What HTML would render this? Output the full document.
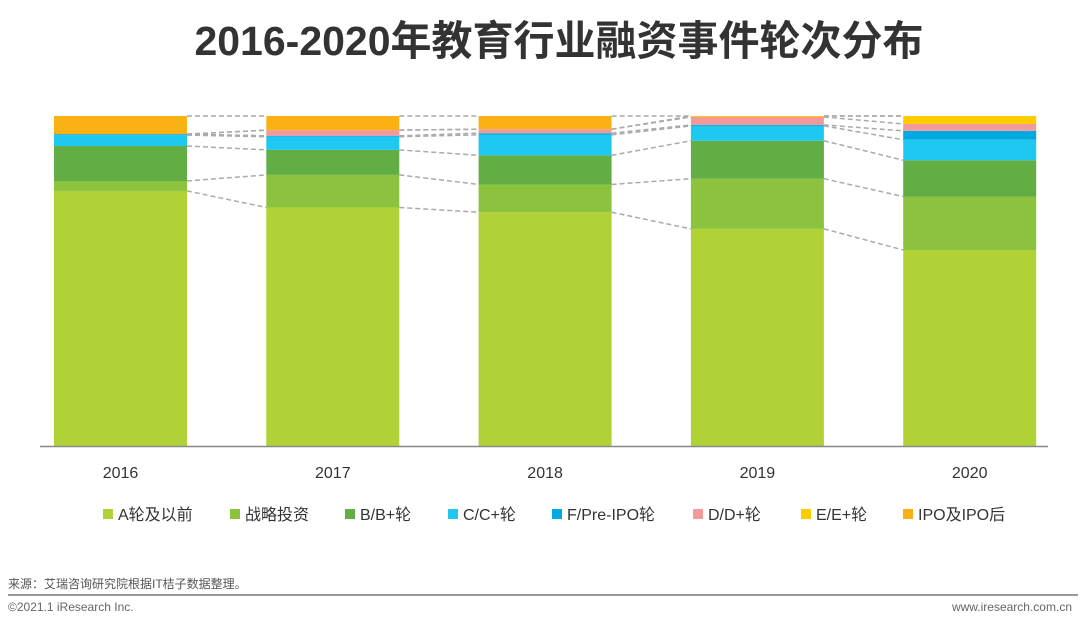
<!DOCTYPE html>
<html><head><meta charset="utf-8">
<style>
body{margin:0;width:1080px;height:629px;background:#fff;font-family:"Liberation Sans","Noto Sans CJK SC",sans-serif;overflow:hidden;position:relative}
.abs{position:absolute;white-space:nowrap}
</style></head><body>
<div class="abs" style="left:0;width:1080px;padding-left:38px;box-sizing:border-box;top:7px;text-align:center;font-size:41px;font-weight:bold;color:#333">2016-2020年教育行业融资事件轮次分布</div>
<svg id="chart" width="1080" height="629" style="position:absolute;left:0;top:0"></svg>
<div class="abs" style="left:8px;top:575px;font-size:12px;color:#555">来源：艾瑞咨询研究院根据IT桔子数据整理。</div>
<div class="abs" style="left:8px;top:594px;width:1070px;height:2px;background:#999"></div>
<div class="abs" style="left:8px;top:600px;font-size:12px;color:#666">©2021.1 iResearch Inc.</div>
<div class="abs" style="right:8px;top:600px;font-size:12px;color:#666">www.iresearch.com.cn</div>
<script>
const years=['2016','2017','2018','2019','2020'];
const series=['A轮及以前','战略投资','B/B+轮','C/C+轮','F/Pre-IPO轮','D/D+轮','E/E+轮','IPO及IPO后'];
const colors=['#b1d236','#8bc33f','#63ad45','#1fc8f0','#00a9e0','#f4999b','#ffcc00','#f9b114'];
const sA=[77.3,72.5,70.7,65.8,59.4];
const sStrat=[3.0,9.9,8.4,15.2,16.2];
const sB=[10.6,7.6,8.8,11.5,11.0];
const sC=[3.3,4.0,6.2,4.5,6.2];
const sF=[0.3,0.3,0.5,0.3,2.7];
const sD=[0,1.7,1.2,2.4,2.1];
const sE=[0,0,0,0.3,2.4];
const sIPO=[5.5,4.3,4.0,0,0];
const data=[sA,sStrat,sB,sC,sF,sD,sE,sIPO];
const svg=document.getElementById('chart');
const NS='http://www.w3.org/2000/svg';
const y0=446,H=330,bw=133;
const x=i=>54+i*212.3;
function y(v,i){let t=0;for(let k=0;k<data.length;k++)t+=data[k][i];return y0-v/t*H;}
function mk(tag,a){const e=document.createElementNS(NS,tag);for(const k in a)e.setAttribute(k,a[k]);svg.appendChild(e);return e;}
const cum=years.map((_,i)=>{let c=[0],s=0;data.forEach(d=>{s+=d[i];c.push(s)});return c;});
years.forEach((yr,i)=>{
  data.forEach((d,k)=>{
    if(d[i]<=0)return;
    const r=mk('rect',{x:x(i),y:y(cum[i][k+1],i),width:bw,height:y(cum[i][k],i)-y(cum[i][k+1],i),fill:colors[k]});
    
    
  });
  const t=mk('text',{x:x(i)+bw/2,y:478,'text-anchor':'middle','font-size':16,fill:'#333'});
  t.textContent=yr;
  
  
  if(i<years.length-1){
    for(let k=1;k<=data.length;k++){
      const l=mk('line',{x1:x(i)+bw,y1:y(cum[i][k],i),x2:x(i+1),y2:y(cum[i+1][k],i+1),stroke:'#aaa','stroke-width':1.5,'stroke-dasharray':'5,3'});
      
      
    }
  }
});
const ax=mk('line',{x1:40,y1:446.5,x2:1048,y2:446.5,stroke:'#888','stroke-width':1.5});


const lx=[103,230,345,448,552,693,801,903];
series.forEach((s,k)=>{
  const r=mk('rect',{x:lx[k],y:509,width:10,height:10,fill:colors[k]});
  
  
  const t=mk('text',{x:lx[k]+15,y:520,'font-size':16,fill:'#333'});
  t.textContent=s;
  
  
});
</script>
</body></html>
